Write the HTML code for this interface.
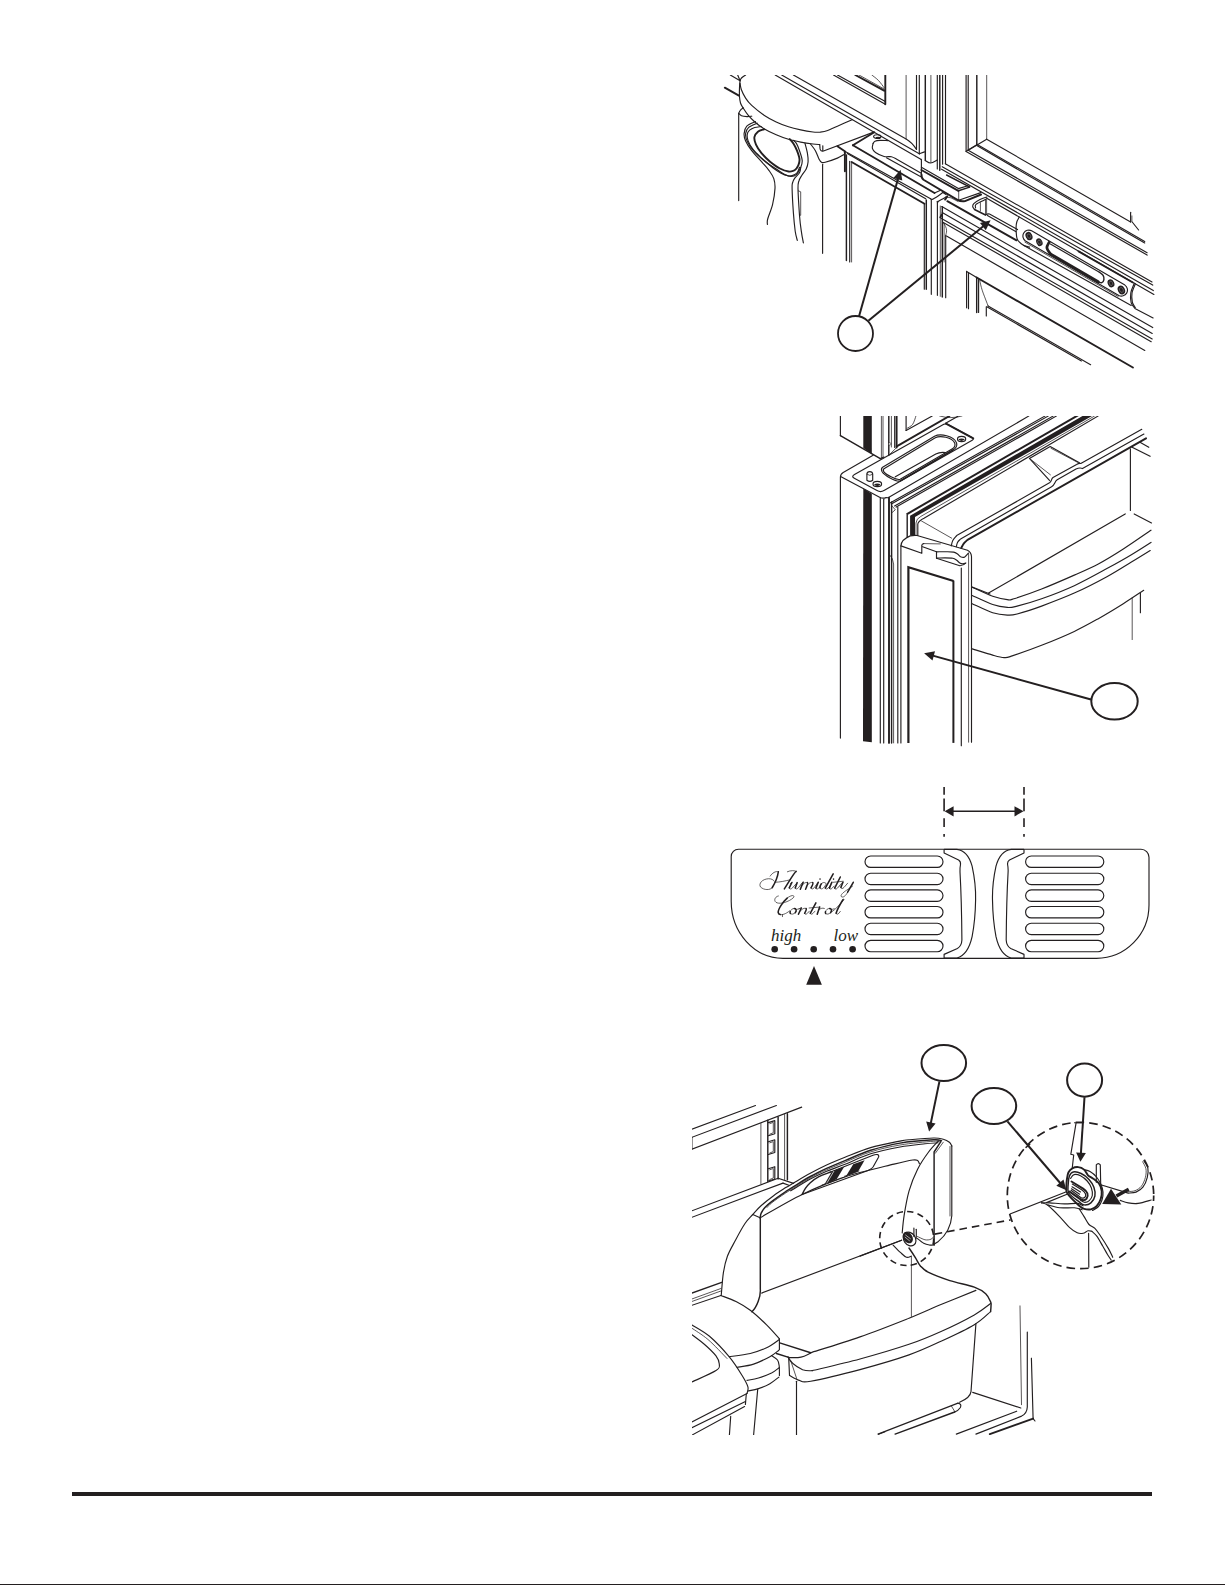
<!DOCTYPE html>
<html><head><meta charset="utf-8">
<style>
html,body{margin:0;padding:0;background:#fff;}
body{width:1225px;height:1585px;position:relative;overflow:hidden;font-family:"Liberation Sans",sans-serif;}
svg{position:absolute;left:0;top:0;}
.l{fill:none;stroke:#231f20;stroke-width:1.15;stroke-linecap:round;stroke-linejoin:round;}
.m{fill:none;stroke:#231f20;stroke-width:1.45;stroke-linecap:round;stroke-linejoin:round;}
.h{fill:none;stroke:#231f20;stroke-width:1.9;stroke-linecap:round;stroke-linejoin:round;}
.t{fill:none;stroke:#231f20;stroke-width:0.75;stroke-linecap:round;stroke-linejoin:round;}
.p{fill:none;stroke:#231f20;stroke-width:1.15;stroke-linejoin:round;}
.k{fill:#231f20;stroke:none;}
.w{fill:#fff;stroke:#231f20;stroke-width:1.3;}
</style></head><body>
<svg width="1225" height="1585" viewBox="0 0 1225 1585">
<!-- FOOTER -->
<rect x="72" y="1492" width="1080" height="4" class="k"/>
<rect x="0" y="1584" width="1225" height="1" class="k"/>
<!-- FIG1 -->
<g id="fig1">
<defs><clipPath id="c1"><rect x="715" y="75" width="450" height="310"/></clipPath></defs>
<g clip-path="url(#c1)">
<path class="l" d="M730.3,75.0 L740.1,80.7"/>
<path class="l" d="M737.7,75.0 L740.1,80.7"/>
<path class="h" d="M724.8,87.7 L738.9,95.6"/>
<path class="l" d="M745.6,75.0 C744.9,75.5 742.4,77.0 741.5,78.0 C740.6,79.0 740.4,79.0 740.1,80.7 C739.8,82.4 739.6,85.3 739.5,88.0 C739.4,90.7 739.3,94.3 739.5,96.8 C739.7,99.3 740.0,101.3 740.5,103.0 C741.0,104.7 742.2,106.5 742.6,107.2"/>
<path class="l" d="M740.1,83.4 C740.3,84.4 740.4,87.0 741.3,89.5 C742.2,92.0 743.9,95.4 745.6,98.1 C747.3,100.8 748.6,102.6 751.7,105.4 C754.8,108.2 759.9,112.5 764.0,115.2 C768.1,118.0 772.1,120.0 776.2,121.9 C780.3,123.8 784.4,125.5 788.5,126.8 C792.6,128.1 796.6,129.0 800.7,129.9 C804.8,130.8 809.7,131.6 813.0,132.0 C816.3,132.4 817.8,132.3 820.3,132.1 C822.8,131.8 824.9,131.5 827.7,130.5 C830.6,129.5 833.3,128.0 837.4,126.2 C841.5,124.4 849.6,120.8 852.1,119.7"/>
<path class="l" d="M742.6,107.2 C743.5,108.5 746.0,112.7 748.1,115.2 C750.2,117.8 752.8,120.2 755.4,122.5 C758.0,124.8 760.5,126.6 764.0,128.7 C767.5,130.8 772.1,133.0 776.2,134.8 C780.3,136.6 784.4,138.1 788.5,139.3 C792.6,140.5 796.6,141.3 800.7,142.1 C804.8,142.9 809.8,143.6 813.0,144.0 C816.2,144.4 818.6,144.5 819.7,144.6"/>
<path class="l" d="M819.7,144.6 L820.1,148.9 Q820.6,151.6 823.5,151 L873.7,132.1"/>
<path class="l" d="M822.8,145.8 L822.8,150.7"/>
<path class="l" d="M810.5,144.0 C811.3,145.1 814.0,148.1 815.4,150.7 C816.8,153.2 818.1,157.4 819.1,159.3 C820.1,161.2 820.5,161.8 821.5,162.3 C822.5,162.8 822.6,163.0 825.2,162.3 C827.9,161.6 834.2,159.4 837.4,158.1 C840.6,156.8 843.1,155.0 844.2,154.4"/>
<path class="l" d="M738.7,113.4 L738.7,200.6"/>
<path class="l" d="M738.7,113.4 C739.0,112.9 739.5,111.2 740.3,110.3 C741.0,109.4 742.7,108.3 743.2,107.9"/>
<path class="l" d="M738.7,113.4 C739.2,113.8 740.1,115.3 741.5,115.8 C742.9,116.3 745.3,116.5 747.0,116.6 C748.7,116.7 750.9,116.3 751.7,116.2"/>
<path class="l" d="M755.4,121.6 C754.0,122.4 748.7,124.2 746.8,126.2 C744.9,128.2 744.3,131.2 744.1,133.6 C743.9,136.0 744.3,138.1 745.6,140.9 C746.9,143.8 749.1,147.2 751.7,150.7 C754.4,154.2 758.6,158.4 761.5,161.7 C764.4,165.0 766.9,167.5 768.9,170.3 C770.9,173.1 772.8,175.6 773.8,178.6 C774.8,181.6 775.2,184.1 775.0,188.4 C774.8,192.7 773.8,199.2 772.6,204.3 C771.4,209.4 768.6,215.6 767.7,219.0 C766.8,222.4 767.5,223.6 767.4,224.5"/>
<path class="l" d="M757.2,123.2 C755.8,123.9 750.6,125.7 748.7,127.4 C746.8,129.1 745.9,131.3 745.6,133.6 C745.3,135.8 745.9,138.2 747.1,140.9 C748.3,143.7 750.2,146.8 753.0,150.1 C755.8,153.4 760.1,157.3 764.0,160.5 C767.9,163.7 772.7,166.8 776.2,169.1 C779.7,171.4 782.3,173.4 784.8,174.6 C787.2,175.8 789.0,176.4 790.9,176.4 C792.8,176.4 794.8,176.1 796.4,174.6 C798.0,173.1 799.7,169.9 800.7,167.6 C801.7,165.2 802.4,163.3 802.2,160.5 C802.0,157.7 800.5,153.5 799.5,150.7 C798.5,147.8 797.4,145.1 796.4,143.4 C795.4,141.7 793.9,140.8 793.4,140.3"/>
<path class="l" d="M761.3,126.5 C760.2,126.7 756.7,126.9 754.7,127.5 C752.8,128.1 750.8,129.1 749.6,130.2 C748.4,131.3 747.5,132.4 747.3,134.2 C747.0,136.0 747.1,138.3 748.1,140.9 C749.1,143.5 750.9,146.8 753.2,149.7 C755.5,152.6 758.7,155.4 762.0,158.5 C765.3,161.6 769.9,165.6 773.1,168.0 C776.3,170.4 778.7,171.9 781.1,173.2 C783.5,174.5 785.8,175.4 787.8,175.8 C789.8,176.2 791.3,176.0 792.9,175.4 C794.5,174.8 796.2,173.8 797.3,172.5 C798.4,171.2 799.1,168.2 799.5,167.3"/>
<path class="h" d="M764.0,129.3 C763.0,129.7 759.5,130.4 757.9,131.7 C756.3,133.0 754.7,135.0 754.4,137.2 C754.1,139.3 754.8,141.9 756.0,144.6 C757.2,147.3 759.1,150.3 761.5,153.2 C763.9,156.0 767.0,159.1 770.1,161.7 C773.2,164.2 776.8,166.9 779.9,168.5 C783.0,170.1 786.0,171.2 788.5,171.5 C791.0,171.8 793.0,171.3 794.6,170.3 C796.2,169.3 797.5,167.2 798.3,165.4 C799.1,163.6 799.7,161.8 799.5,159.3 C799.3,156.9 798.0,153.3 797.0,150.7 C796.0,148.0 794.6,145.3 793.4,143.4 C792.2,141.5 790.3,139.8 789.7,139.1"/>
<path class="l" d="M800.7,167.6 C800.5,168.5 800.5,171.0 799.5,172.8 C798.5,174.6 795.8,176.6 794.6,178.3 C793.4,180.0 792.9,181.3 792.5,183.0 C792.1,184.7 792.0,183.4 792.1,188.4 C792.2,193.4 792.9,205.8 793.4,212.9 C793.9,220.0 794.6,226.6 795.2,231.2 C795.9,235.8 796.9,238.9 797.3,240.4"/>
<path class="l" d="M805.0,143.4 C805.4,145.0 806.9,150.1 807.4,153.2 C807.9,156.2 808.3,159.0 808.1,161.7 C807.9,164.3 807.2,166.8 806.2,169.1 C805.2,171.3 803.1,173.2 801.9,175.2 C800.7,177.2 799.5,178.8 798.9,181.0 C798.2,183.2 797.9,182.7 798.0,188.4 C798.1,194.1 799.0,208.2 799.5,215.3 C800.0,222.4 800.6,226.6 801.3,231.2 C801.9,235.8 803.0,240.9 803.4,242.9"/>
<path class="t" d="M798.3,190.8 L800.7,191.8 L800.7,215.3 L799.5,215.3"/>
<path class="l" d="M822.6,164.2 L822.6,253.3"/>
<path class="l" d="M793.4,75 L906.1,139.1 Q912,142.5 916.5,149.5"/>
<path class="l" d="M781.7,75.0 L919.3,153.8"/>
<path class="l" d="M775.2,75.0 L920.8,159.3"/>
<path class="l" d="M837.5,75.0 L885.3,101.5"/>
<path class="l" d="M833.5,75.0 L885.3,104.2"/>
<path class="h" d="M855.3,75.0 L884.1,90.7"/>
<path class="t" d="M859.0,75.0 L884.5,89.2"/>
<path class="t" d="M871.8,75.0 C872.9,75.9 876.5,78.4 878.5,80.5 C880.5,82.6 883.2,86.5 884.1,87.7"/>
<path class="h" d="M885.3,75.0 L885.3,104.2"/>
<path class="t" d="M906.1,75.0 L906.1,139.1"/>
<path class="l" d="M916.5,75.0 L916.5,149.5"/>
<path class="l" d="M919.3,75.0 L919.3,153.8"/>
<path class="m" d="M925.3,75.0 L925.3,160.5"/>
<path class="t" d="M930.9,75.0 L930.9,162.5"/>
<path class="l" d="M937.3,75.0 L937.3,169.0"/>
<path class="m" d="M939.8,75.0 L939.8,170.3"/>
<path class="l" d="M942.6,75.0 L942.6,164.2"/>
<path class="l" d="M945.5,75.0 L945.5,163.7"/>
<path class="l" d="M966.1,75.0 L966.1,151.4"/>
<path class="l" d="M968.2,75.0 L968.2,150.2"/>
<path class="m" d="M976.8,75.0 L976.8,144.7"/>
<path class="t" d="M986.7,75.0 L986.7,139.2"/>
<path class="l" d="M925.3,160.5 C926.2,160.9 928.6,163.1 930.6,163.0 C932.6,162.9 936.2,160.4 937.3,159.9"/>
<path class="l" d="M919.3,153.8 L924.5,151.9"/>
<path class="l" d="M986.7,139.2 L1130.6,222.0"/>
<path class="l" d="M976.8,144.2 L1144.7,241.6"/>
<path class="l" d="M976.8,145.6 L1144.7,243.0"/>
<path class="l" d="M968.2,150.2 L1147.1,252.7"/>
<path class="l" d="M966.1,151.4 L1147.1,255.1"/>
<path class="l" d="M986.7,139.2 L968.2,150.2"/>
<path class="l" d="M976.8,144.7 L966.5,150.9"/>
<path class="l" d="M1130.6,212.2 L1130.6,222.0"/>
<path class="t" d="M1131.9,215.9 L1131.9,221.6"/>
<path class="l" d="M1132.2,222.0 L1138.6,230.0"/>
<path class="l" d="M945.3,163.7 L1152.0,282.0"/>
<path class="l" d="M942.2,166.7 L1152.7,285.1"/>
<path class="l" d="M941.6,169.2 L1153.3,290.6"/>
<path class="l" d="M986.3,198.0 L1153.9,294.5"/>
<path class="h" d="M874.3,132.3 L852.9,145.3"/>
<path class="h" d="M852.9,145.3 L934.5,193.0"/>
<path class="l" d="M934.5,193.0 L940.0,190.4"/>
<path class="h" d="M837.4,146.2 L844.8,151.2"/>
<path class="l" d="M844.8,151.2 L930.6,198.8"/>
<path class="l" d="M847.3,153.5 L925.7,198.8"/>
<path class="h" d="M851.6,162.0 L924.5,203.7"/>
<path class="h" d="M844.9,152.2 L844.9,171.2"/>
<path class="m" d="M846.4,155.0 L846.4,260.4"/>
<path class="l" d="M849.7,161.4 L849.7,262.0"/>
<path class="t" d="M851.6,163.0 L851.6,262.0"/>
<path class="l" d="M924.3,203.7 L924.3,289.2"/>
<path class="m" d="M926.3,200.0 L926.3,289.2"/>
<path class="l" d="M931.3,200.0 L931.3,294.3"/>
<path class="l" d="M937.4,201.2 L937.4,295.3"/>
<path class="t" d="M940.3,206.0 L940.3,296.3"/>
<path class="m" d="M942.3,206.7 L942.3,297.0"/>
<path class="t" d="M944.1,223.3 L944.1,262.0"/>
<path class="l" d="M945.7,235.5 L945.7,297.7"/>
<path class="l" d="M930.6,198.8 C930.8,198.9 931.4,199.4 932.0,199.4 C932.6,199.4 932.2,199.7 934.0,198.6 C935.8,197.5 941.4,193.6 942.9,192.6"/>
<path class="l" d="M942.9,192.6 L946.0,194.6"/>
<path class="l" d="M937.4,202.9 C937.6,202.6 937.7,201.8 938.5,201.2 C939.3,200.6 940.8,199.9 942.0,199.2 C943.2,198.5 945.2,197.4 945.9,197.0"/>
<path class="h" d="M945.1,199.6 L947.3,196.3"/>
<path class="t" d="M945.9,197.0 L951.0,197.8 L958.0,201.5"/>
<path class="l" d="M873.1,143.4 C873.0,144.2 872.0,146.8 872.4,148.3 C872.8,149.8 873.5,151.1 875.5,152.5 C877.5,153.9 881.5,155.8 884.1,156.5 C886.8,157.2 889.4,156.3 891.4,156.7 C893.4,157.1 895.5,158.6 896.3,159.0 L920.8,173.1"/>
<path class="l" d="M886.5,157.8 L920.8,176.7"/>
<path class="l" d="M873.1,143.4 C873.4,143.0 873.9,141.7 875.0,141.2 C876.1,140.7 877.8,140.5 880.0,140.4 C882.2,140.3 886.7,140.6 888.0,140.6"/>
<ellipse class="l" cx="877.3" cy="136.6" rx="3.7" ry="1.9"/>
<ellipse class="k" cx="878" cy="137.9" rx="2.6" ry="1.2"/>
<path class="l" d="M921.4,159.3 L921.4,176.2"/>
<path class="l" d="M921.4,167.2 L958.4,188.6"/>
<path class="h" d="M921.4,170.0 L958.4,190.8"/>
<path class="h" d="M921.5,174.5 Q921.4,178.3 923.5,179.8 L957,199.6 Q961,201.9 965,201.1 L981.1,194.5"/>
<path class="t" d="M958.7,190.8 L958.7,200.3"/>
<path class="l" d="M958.4,188.6 L967.9,185.7"/>
<path class="m" d="M958.4,190.8 L969.7,187.1"/>
<path class="m" d="M946.6,175.0 L969.4,186.8"/>
<path class="l" d="M958.7,200.3 L980.8,192.6"/>
<path class="h" d="M947.3,201.2 L1016.5,240.3"/>
<path class="l" d="M941.8,206.6 L1152.7,327.6"/>
<path class="l" d="M942.2,212.5 L1152.2,333.5"/>
<path class="l" d="M941.5,218.4 L1152.2,339.0"/>
<path class="l" d="M943.3,222.4 L1151.2,341.7"/>
<path class="t" d="M943.3,222.8 C943.7,223.4 945.0,225.2 945.6,226.5 C946.2,227.8 946.6,229.2 946.6,230.8 C946.6,232.4 945.7,235.1 945.5,236.0"/>
<path class="h" d="M940.3,217.4 L941.8,214.5"/>
<path class="l" d="M946.5,236.0 L1144.8,350.4"/>
<path class="l" d="M987.0,197.0 C985.8,197.4 982.2,198.4 980.0,199.5 C977.8,200.6 975.0,202.5 973.8,203.7 C972.6,204.9 972.6,205.6 972.7,206.6 C972.8,207.6 974.2,209.0 974.5,209.5"/>
<path class="m" d="M974.5,209.5 L985.5,215.0"/>
<path class="l" d="M985.5,215 Q987.5,213.6 989.5,214 L1017.5,229.6"/>
<path class="l" d="M985.5,199.6 C983.9,200.4 977.6,203.0 976.0,204.4 C974.4,205.8 975.7,207.4 975.6,208.0"/>
<path class="t" d="M980.4,202.6 L980.4,211.0"/>
<path class="t" d="M985.5,199.2 L985.5,213.9"/>
<path class="t" d="M986.6,198.8 L986.6,213.5"/>
<path class="l" d="M987.4,215.4 L1015.7,231.6"/>
<path class="l" d="M1019.2,217.1 C1018.8,217.9 1017.3,220.2 1016.8,222.0 C1016.3,223.8 1016.0,225.3 1016.1,228.2 C1016.2,231.1 1016.1,236.3 1017.3,239.2 C1018.5,242.0 1021.5,244.0 1023.5,245.3 C1025.5,246.6 1028.6,246.8 1029.6,247.1"/>
<path class="l" d="M1023.5,245.3 L1131.2,305.5"/>
<path class="l" d="M1134.3,283.3 C1133.7,284.9 1131.3,289.7 1130.8,293.0 C1130.3,296.3 1130.5,300.3 1131.2,302.9 C1131.9,305.5 1134.3,307.5 1134.9,308.4 L1153.1,317.9"/>
<path class="l" d="M1135.4,283.8 C1134.8,285.3 1132.5,289.9 1132.0,293.0 C1131.5,296.1 1131.9,300.1 1132.4,302.5 C1133.0,304.9 1134.8,306.7 1135.3,307.5"/>
<path class="h" d="M1078.6,251.4 L1132.4,282.2"/>
<path class="l" d="M1031.6,230.7 L1124.9,285.1 A6.0,6.0 0 0 1 1118.8,295.4 L1025.5,241.0 A6.0,6.0 0 0 1 1031.6,230.7 Z"/>
<path class="t" d="M1024.9,242.1 L1118.2,296.5"/>
<ellipse cx="1029.0" cy="236.1" rx="3.3" ry="4.3" fill="#231f20" stroke="none" transform="rotate(-25 1029.0 236.1)"/>
<ellipse cx="1029.0" cy="236.1" rx="1.7" ry="2.3" fill="none" stroke="#8a8788" stroke-width="0.5" transform="rotate(-25 1029.0 236.1)"/>
<ellipse cx="1039.4" cy="242.2" rx="3.0" ry="4.0" fill="#231f20" stroke="none" transform="rotate(-25 1039.4 242.2)"/>
<ellipse cx="1039.4" cy="242.2" rx="1.6" ry="2.1" fill="none" stroke="#8a8788" stroke-width="0.5" transform="rotate(-25 1039.4 242.2)"/>
<ellipse cx="1111.0" cy="283.3" rx="3.2" ry="4.2" fill="#231f20" stroke="none" transform="rotate(-25 1111.0 283.3)"/>
<ellipse cx="1111.0" cy="283.3" rx="1.6" ry="2.3" fill="none" stroke="#8a8788" stroke-width="0.5" transform="rotate(-25 1111.0 283.3)"/>
<ellipse cx="1121.4" cy="290.0" rx="3.5" ry="4.6" fill="#231f20" stroke="none" transform="rotate(-25 1121.4 290.0)"/>
<ellipse cx="1121.4" cy="290.0" rx="1.8" ry="2.5" fill="none" stroke="#8a8788" stroke-width="0.5" transform="rotate(-25 1121.4 290.0)"/>
<path class="l" d="M1050.4,244.1 L1099.4,272.2"/>
<path fill="none" stroke="#231f20" stroke-width="2.8" stroke-linecap="round" stroke-linejoin="round" d="M1049.2,242.2 C1048.8,243.1 1046.7,245.9 1046.9,247.8 C1047.1,249.8 1049.8,252.9 1050.4,253.9"/>
<path fill="none" stroke="#231f20" stroke-width="2.8" stroke-linecap="round" d="M1050.4,253.9 L1098.2,281.8"/>
<path class="m" d="M1098.2,281.8 C1098.8,281.9 1100.8,283.1 1101.8,282.7 C1102.8,282.3 1103.7,280.8 1103.9,279.6 C1104.1,278.4 1103.8,276.5 1103.1,275.3 C1102.3,274.1 1100.0,272.7 1099.4,272.2"/>
<path class="l" d="M966.6,271.4 L966.6,307.8"/>
<path class="l" d="M968.5,272.8 L968.5,308.7"/>
<path class="m" d="M976.7,277.5 L976.7,312.4"/>
<path class="l" d="M978.6,279.0 L978.6,312.4"/>
<path class="l" d="M966.6,271.4 L976.7,277.5"/>
<path class="h" d="M976.7,277.5 L1132.9,367.5"/>
<path class="t" d="M979.5,279.3 C979.8,280.4 980.4,283.7 981.0,286.0 C981.6,288.3 982.0,289.8 983.2,293.1 C984.4,296.4 987.3,303.8 988.1,305.9"/>
<path class="l" d="M986.3,306.8 L986.3,316.0"/>
<path class="l" d="M986.8,306.8 L1081.4,361.0"/>
<path class="l" d="M988.1,305.9 L1090.6,364.7"/>
</g>
<path d="M859.1,316.0 L898.1,178.4" fill="none" stroke="#231f20" stroke-width="2.00"/>
<path class="k" d="M900.6,169.7 L902.3,180.6 L893.4,178.1 Z"/>
<path d="M868.4,320.8 L983.6,226.0" fill="none" stroke="#231f20" stroke-width="2.00"/>
<path class="k" d="M990.6,220.3 L985.8,230.2 L980.0,223.1 Z"/>
<circle cx="855.5" cy="333.5" r="17.5" fill="#fff" stroke="#231f20" stroke-width="1.8"/>
</g><!--/fig1-->
<!-- FIG2 -->
<g id="fig2">
<defs><clipPath id="c2"><rect x="830" y="416" width="340" height="335"/></clipPath></defs>
<g clip-path="url(#c2)">
<path class="l" d="M840.4,410.0 L840.4,435.7"/>
<path class="m" d="M840.4,435.7 L880.3,458.6"/>
<path class="k" d="M863.3,410 H871.8 V454 L863.3,448.1 Z"/>
<path class="t" d="M881.4,410.0 L881.4,458.6"/>
<path class="t" d="M883.0,410.0 L883.0,458.2"/>
<path class="m" d="M888.8,410.0 L888.8,455.3"/>
<path class="t" d="M891.4,410.0 L891.4,447.0"/>
<path class="l" d="M894.7,410.0 L894.7,447.5"/>
<path class="h" d="M896.6,410.0 L896.6,447.5"/>
<path class="l" d="M880.3,458.6 L884.0,457.0"/>
<path class="l" d="M945.6,423.2 L958.0,416.2"/>
<path class="t" d="M939.6,416 Q951,419.3 962,416"/>
<circle cx="889.8" cy="443.9" r="1.2" fill="#fff" stroke="#231f20" stroke-width="0.6"/>
<path class="t" d="M888.8,455.3 L896.6,447.5"/>
<path class="h" d="M896.7,446.4 L949.5,416.0"/>
<path class="l" d="M906.1,410.0 L906.1,430.4"/>
<path class="l" d="M906.1,430.4 L932.2,416.0"/>
<path class="t" d="M915.9,416.0 C915.4,417.4 914.2,422.2 912.7,424.3 C911.2,426.4 907.9,427.7 906.9,428.4"/>
<path class="l" d="M873.1,455.3 L843.2,472.4 Q840.4,474 840.4,477.2 V738.1"/>
<path class="l" d="M840.6,476.4 L879.6,497.2 Q882.8,498.9 886,497.6 L888.1,497.7 L1028.7,416.1"/>
<path class="l" d="M854.5,474.6 L943.8,424.3 Q945.6,423.3 947.4,424.3 L972,437.4 Q974.6,438.8 972.2,440.2 L884,490.6 Q880.5,492.6 877,490.6 L854.3,478.3 Q851,476.5 854.5,474.6 Z"/>
<path class="l" d="M882.6,467.2 L934.5,436.3 C940,433.3 954,435.6 956.6,443 C957.6,446.8 955.2,448.8 952.8,450.1 L900.5,480.8 C896.5,482.8 884,475.2 882,471.5 C881,469.5 881.5,468 882.6,467.2 Z"/>
<path class="l" d="M884,468.7 L935.3,437.8 C940,435.2 952.3,437.2 954.8,443.3 C955.7,446.3 954,447.8 952,448.9 L900.2,479.3 C897,480.8 885.8,474.5 883.8,471.6 C883,470.2 883.2,469.2 884,468.7 Z"/>
<path class="h" d="M946.0,423.6 L973.3,438.3"/>
<path class="l" d="M895.3,476.8 L935.8,454 Q940,451.8 945.5,452.6"/>
<path class="m" d="M900.5,480.8 L952.8,450.1"/>
<ellipse class="l" cx="961.6" cy="439" rx="4.1" ry="2.6"/>
<path class="k" d="M958.3,439.3 Q961.6,437.6 964.9,439.3 Q961.6,442.6 958.3,439.3 Z"/>
<ellipse class="l" cx="877.3" cy="484" rx="4.3" ry="2.6"/>
<path class="k" d="M874,484.4 Q877.3,482.7 880.6,484.4 Q877.3,487.7 874,484.4 Z"/>
<path class="l" d="M866.9,474 V480.2 Q869.8,482.6 872.7,480.2 V474 Q872.5,471.6 869.8,471.6 Q867,471.6 866.9,474 Z" fill="#fff"/>
<path class="t" d="M866.9,474.3 Q869.8,476.6 872.7,474.3"/>
<path class="k" d="M863.3,488.6 L871.8,493.8 V742.2 L863,741.3 Z"/>
<path class="l" d="M880.3,498.4 L880.3,742.9"/>
<path class="l" d="M883.7,499.2 L883.7,742.9"/>
<path class="h" d="M889.0,497.7 L889.0,742.9"/>
<path class="m" d="M891.6,502.0 L891.6,742.9"/>
<path class="t" d="M890,555.2 Q893,558 893.6,564 V742.9"/>
<path class="l" d="M897.8,507.0 L897.8,742.9"/>
<path class="t" d="M891.6,505.5 L895.3,509.8 L891.6,513.0"/>
<path class="l" d="M890.5,502.7 L1044.9,416.1"/>
<path class="l" d="M891.3,503.9 L1048.2,416.1"/>
<path class="l" d="M894.6,505.9 L1053.1,416.1"/>
<path class="l" d="M896.2,507.1 L1056.3,416.1"/>
<path d="M907.2,537 V514.5" fill="none" stroke="#231f20" stroke-width="1.4"/>
<path d="M906.6,514.3 L1087.2,410" fill="none" stroke="#231f20" stroke-width="2"/>
<path class="k" d="M910.1,535.5 V515.7 L1082.5,416.1 L1093.1,410 H1102.7 L1092,416.1 L915,517 V535.5 Z"/>
<path class="t" d="M916,535.5 V523 Q916.2,518.8 920.7,516.5 L1094.4,416.1"/>
<path class="l" d="M917.8,535.5 V524 Q918.3,521 924,518.2 L1098,416.1"/>
<path class="t" d="M921.5,521.0 L951.7,538.2"/>
<path class="l" d="M951.3,545.9 C951.5,545.0 951.9,542.2 952.8,540.5 C953.7,538.8 956.1,536.4 956.7,535.6 L1049.5,482.8 C1052,481.3 1051,479 1053,477.5 L1076.6,464.5 Q1079,463 1080.8,463.5 L1141.8,429.3"/>
<path class="l" d="M956.3,546.7 C956.5,546.0 956.8,543.7 957.5,542.4 C958.2,541.1 960.1,539.6 960.6,539.0 L1051.6,486.7 C1055,484.7 1054.5,481.5 1057.2,479.8 L1076,469 Q1080,467.2 1082.5,468.6 L1143.9,434.1"/>
<path class="h" d="M961.3,547.9 C961.7,547.2 962.7,544.9 963.7,543.6 C964.7,542.3 966.9,540.5 967.5,539.9 L1146,438.3"/>
<path class="l" d="M1049.5,480.4 L1029.4,458.4 L1050.2,446.6 L1079.4,462.8"/>
<path class="t" d="M1031.2,459.8 L1050.4,474.8"/>
<path class="t" d="M1051.0,448.3 L1077.5,462.3"/>
<path class="l" d="M1130.4,448.7 L1130.4,510.5"/>
<path class="l" d="M1132.1,447.3 L1150.1,456.3"/>
<path class="l" d="M1140.4,442.5 L1148.8,447.3"/>
<path class="l" d="M1134.2,513.9 L1151.5,523.0"/>
<path class="l" d="M1125.2,513.9 L988.6,593.1"/>
<path class="l" d="M972.2,587.3 C975.6,588.8 986.9,594.2 992.7,596.3 C998.6,598.3 1003.8,599.2 1007.3,599.6 C1010.8,600.0 1008.2,600.6 1013.9,598.8 C1019.6,597.0 1031.5,593.0 1041.6,589.0 C1051.7,585.0 1064.8,579.3 1074.3,575.1 C1083.8,570.9 1090.6,568.1 1098.8,563.7 C1107.0,559.4 1114.6,554.6 1123.3,549.0 C1132.0,543.4 1146.4,533.3 1151.0,530.2"/>
<path class="l" d="M972.2,595.5 C975.6,597.0 986.9,602.5 992.7,604.5 C998.6,606.5 1003.2,607.1 1007.3,607.4 C1011.4,607.7 1011.4,607.5 1017.1,606.1 C1022.8,604.7 1032.1,602.2 1041.6,598.8 C1051.1,595.4 1063.4,590.7 1074.3,585.7 C1085.2,580.7 1097.4,573.8 1106.9,568.6 C1116.4,563.4 1124.1,559.1 1131.4,554.7 C1138.8,550.3 1147.7,544.5 1151.0,542.4"/>
<path class="l" d="M972.2,603.7 C975.6,605.2 986.9,610.8 992.7,612.7 C998.6,614.6 1003.2,614.9 1007.3,615.1 C1011.4,615.3 1011.4,615.5 1017.1,614.0 C1022.8,612.5 1032.1,609.6 1041.6,606.1 C1051.1,602.6 1063.4,598.0 1074.3,593.1 C1085.2,588.2 1097.4,581.9 1106.9,576.7 C1116.4,571.5 1124.2,566.4 1131.4,562.0 C1138.6,557.6 1147.1,552.5 1150.2,550.6"/>
<path class="l" d="M972.2,648.9 C975.6,649.9 987.4,653.6 992.7,655.1 C998.0,656.6 1000.9,657.5 1004.1,657.6 C1007.4,657.7 1006.0,658.0 1012.2,655.9 C1018.5,653.8 1031.2,649.4 1041.6,645.3 C1051.9,641.2 1064.8,635.9 1074.3,631.4 C1083.8,626.9 1090.6,623.0 1098.8,618.4 C1107.0,613.8 1115.8,608.4 1123.3,603.7 C1130.8,599.0 1140.3,592.5 1143.7,590.3"/>
<path class="t" d="M1132.2,598.0 L1132.2,639.6"/>
<path class="l" d="M1140.4,593.1 L1140.4,612.7"/>
<path class="l" d="M900.9,742.9 V545.9 C901.2,542 905,538 910.2,535.9 Q913.5,535.2 917.1,535.5 L967.5,550.2 Q971.2,552 971.5,556.5 V742.2" fill="#fff"/>
<path class="t" d="M968.6,553.0 L968.6,742.2"/>
<path class="l" d="M900.9,545.9 L921.8,553.3 V545.4 Q922,543.7 923.8,543.6"/>
<path class="t" d="M923.5,543.6 L940.4,543.9"/>
<path class="l" d="M922.6,546.7 L936.5,551.8"/>
<path class="l" d="M936.5,551.8 L936.5,558.0"/>
<path class="l" d="M936.5,551.8 C937.9,551.8 942.1,551.7 945.0,551.7 C947.9,551.8 951.5,551.7 953.6,552.1 C955.7,552.5 956.3,553.3 957.5,554.1 C958.7,554.9 959.5,556.3 960.6,556.8 C961.8,557.3 963.1,557.8 964.4,557.2 C965.7,556.6 967.6,553.9 968.3,553.3"/>
<path class="l" d="M936.5,558.0 C937.9,558.0 942.3,557.9 945.0,557.9 C947.7,557.9 950.8,557.9 952.8,558.3 C954.8,558.7 955.5,559.5 956.7,560.3 C957.9,561.1 958.8,562.4 959.8,563.0 C960.8,563.6 961.9,563.8 962.9,563.8 C963.9,563.8 965.1,563.3 965.6,563.2"/>
<path class="l" d="M936.5,558.3 L959.8,565.7 Q963.5,565.8 965.8,563"/>
<path class="l" d="M961.3,568.0 L961.3,745.7"/>
<path d="M908.4,742.9 V567.2 L953.6,581" fill="none" stroke="#231f20" stroke-width="2.2" stroke-linejoin="miter"/>
<path d="M953.4,580.6 V742.9" fill="none" stroke="#231f20" stroke-width="2.0"/>
<path class="l" d="M972.2,587.0 L990.0,594.0"/>
</g>
<path d="M1091.0,699.5 L932.8,655.6" fill="none" stroke="#231f20" stroke-width="2.00"/>
<path class="k" d="M924.1,653.2 L935.0,651.2 L932.5,660.5 Z"/>
<ellipse cx="1114.5" cy="701.3" rx="23.2" ry="18.2" fill="#fff" stroke="#231f20" stroke-width="2.0"/>
</g><!--/fig2-->
<!-- FIG3 -->
<g id="fig3">
<path class="p" d="M738.5,849.2 H1141 A8,8 0 0 1 1149,857.2 V905 A52.5,53.3 0 0 1 1096.5,958.3 H783 A51.8,57 0 0 1 731.2,901.3 V856.5 A7.3,7.3 0 0 1 738.5,849.2 Z"/>
<rect class="p" x="865" y="856.0" width="78" height="11.4" rx="5.7"/>
<rect class="p" x="1025.6" y="856.0" width="78.2" height="11.4" rx="5.7"/>
<rect class="p" x="865" y="873.2" width="78" height="11.4" rx="5.7"/>
<rect class="p" x="1025.6" y="873.2" width="78.2" height="11.4" rx="5.7"/>
<rect class="p" x="865" y="889.9" width="78" height="11.4" rx="5.7"/>
<rect class="p" x="1025.6" y="889.9" width="78.2" height="11.4" rx="5.7"/>
<rect class="p" x="865" y="906.5" width="78" height="11.4" rx="5.7"/>
<rect class="p" x="1025.6" y="906.5" width="78.2" height="11.4" rx="5.7"/>
<rect class="p" x="865" y="923.2" width="78" height="11.4" rx="5.7"/>
<rect class="p" x="1025.6" y="923.2" width="78.2" height="11.4" rx="5.7"/>
<rect class="p" x="865" y="940.3" width="78" height="11.4" rx="5.7"/>
<rect class="p" x="1025.6" y="940.3" width="78.2" height="11.4" rx="5.7"/>
<path class="p" d="M944.1,849.2 V852.9 L958.6,860 Q960.9,861.5 960.5,864.5 Q959.8,868 960,872 Q961.6,900 961.9,940 Q961.6,946 957.4,948.5 L944.1,954.4 V958.3"/>
<path class="p" d="M944.1,849.4 H957 Q968,851 972.1,866.2 Q976,884 975.6,900 Q975.3,920 972.1,936.7 Q968,955 957,958 H944.1"/>
<path class="p" d="M1024,849.2 V852.9 L1009.5,860 Q1007.2,861.5 1007.6,864.5 Q1008.3,868 1008.1,872 Q1006.5,900 1006.2,940 Q1006.5,946 1010.7,948.5 L1024,954.4 V958.3"/>
<path class="p" d="M1024,849.4 H1011.1 Q1000.1,851 996,866.2 Q992.1,884 992.5,900 Q992.8,920 996,936.7 Q1000.1,955 1011.1,958 H1024"/>
<path d="M944.1,786.9 V794.7 M944.1,798.6 V811.3 M944.1,818.2 V827 M944.1,833.9 V836.8" fill="none" stroke="#231f20" stroke-width="1.6"/>
<path d="M1024.0,786.9 V794.7 M1024.0,798.6 V811.3 M1024.0,818.2 V827 M1024.0,833.9 V836.8" fill="none" stroke="#231f20" stroke-width="1.6"/>
<path d="M950,811.3 H1018" fill="none" stroke="#231f20" stroke-width="1.5"/>
<path class="k" d="M944.6,811.3 L953.6,806.2 V816.4 Z M1023.5,811.3 L1014.5,806.2 V816.4 Z"/>
<circle class="k" cx="774.7" cy="949.3" r="3.3"/>
<circle class="k" cx="794.1" cy="949.3" r="3.3"/>
<circle class="k" cx="813.7" cy="949.3" r="3.3"/>
<circle class="k" cx="833.0" cy="949.3" r="3.3"/>
<circle class="k" cx="852.6" cy="949.3" r="3.3"/>
<path class="k" d="M814,966.1 L806.2,984.7 H821.9 Z"/>
<g fill="none" stroke="#231f20" stroke-linecap="round" stroke-linejoin="round">
<path stroke-width="0.7" d="M770.18 876.08C772.06 873.08 775.82 870.64 778.35 871.76 M772.16 887.72C770.18 890.35 764.08 890.35 760.51 886.97C758.45 883.59 762.02 879.09 768.59 878.71C771.59 878.71 773.47 879.84 774.03 880.96 M787.36 871.76C790.37 870.26 795.25 870.26 796.19 871.39 M774.60 882.28C780.04 882.28 785.67 880.78 790.18 879.84 M790.18 883.78C790.84 883.03 791.31 882.65 791.87 882.47 M789.24 887.91C789.43 889.41 790.93 889.41 792.43 887.91L797.13 882.65 M795.25 887.91C795.44 889.41 796.94 889.41 798.44 887.72L800.69 884.91 M800.69 884.91C801.44 883.40 802.20 882.28 803.13 882.18 M801.44 886.03C803.51 883.22 805.95 881.71 807.45 882.65 M806.51 886.03C808.58 883.22 811.02 881.71 812.71 882.65 M811.02 887.91C811.21 889.41 812.71 889.41 814.02 887.91L815.90 885.47 M815.90 885.47C816.65 884.16 817.40 882.84 818.25 882.28 M815.90 888.10C816.09 889.41 817.40 889.41 818.72 888.10L820.60 886.22 M826.23 883.78C825.10 882.09 822.85 881.90 821.35 883.78 M820.03 887.91C820.22 889.41 822.29 889.41 824.16 887.16L826.23 884.16 M825.29 888.10C825.48 889.41 826.79 889.41 828.11 888.10L829.98 886.03 M829.98 886.03C830.73 884.53 831.30 883.03 831.86 882.28 M829.42 888.10C829.61 889.41 830.92 889.41 832.24 888.10L834.11 886.03 M834.68 888.10C834.87 889.41 836.18 889.41 837.49 888.10L839.37 886.03 M833.36 882.28L843.13 881.24 M839.37 886.03C840.69 884.16 841.81 882.65 842.94 882.28 M840.87 887.35C841.06 889.04 842.56 889.04 844.07 887.35L847.63 883.22 M847.63 892.23C845.76 895.98 842.94 898.05 841.25 896.55C840.31 895.04 842.94 892.60 846.69 890.16L852.51 886.22 M778.35 895.98C775.53 896.55 774.03 899.18 775.16 901.43C776.85 904.06 782.86 903.87 789.43 900.49C793.18 898.42 794.69 896.73 793.56 895.80C792.43 895.04 789.80 895.98 787.18 898.05 M780.23 914.57C781.92 915.13 785.67 914.20 789.62 910.82 M782.48 914.57L782.48 916.64 M794.31 908.56C792.43 908.19 790.74 909.69 790.18 911.76 M790.37 913.44C791.31 914.76 793.75 914.38 795.25 912.69 M796.00 909.50C796.94 909.50 797.88 909.13 799.00 908.75 M799.00 908.75C799.76 908.19 800.51 908.00 801.26 908.00 M799.76 911.57C801.82 908.94 804.45 907.44 806.14 908.56 M804.64 913.26C804.82 914.57 806.14 914.57 807.45 913.26L809.33 911.19 M810.27 913.26C810.46 914.57 811.77 914.57 813.09 913.26L814.96 911.19 M809.14 908.00L819.66 907.06 M818.53 910.07C819.94 908.56 822.29 907.62 824.35 908.38 M829.61 908.56C827.73 908.19 826.04 909.69 825.48 911.76 M825.67 913.44C826.60 914.76 829.04 914.38 830.55 912.69 M831.30 909.50C832.24 909.50 833.18 909.13 834.30 908.75 M831.86 911.76C835.43 909.50 840.12 904.24 843.88 899.74C844.44 898.80 843.50 898.80 842.94 899.74 M836.09 913.26C836.27 914.57 837.59 914.57 838.90 913.26L840.31 911.38"/>
<path stroke-width="1.55" d="M778.35 871.76C777.79 876.08 774.60 883.78 772.16 887.72 M796.19 871.39C794.12 872.51 789.43 881.15 784.36 888.85 M791.87 882.47L789.24 887.91 M797.13 882.65L795.25 887.91 M803.13 882.18L800.32 889.22 M807.45 882.65C808.20 883.40 807.27 885.47 805.58 889.22 M812.71 882.65C813.46 883.40 812.33 885.66 811.02 887.91 M818.25 882.28L815.90 888.10 M821.35 883.78C820.22 885.28 819.84 886.78 820.03 887.91 M833.18 873.83L825.29 888.10 M831.86 882.28L829.42 888.10 M840.31 877.02L834.68 888.10 M842.94 882.28L840.87 887.35 M853.27 882.28L847.63 892.23 M787.18 898.05C782.86 901.80 778.16 908.94 778.16 912.32C778.35 913.82 779.29 914.38 780.23 914.57 M790.18 911.76C789.99 912.51 789.99 913.07 790.37 913.44 M795.25 912.69C796.19 911.57 796.38 910.25 796.00 909.50C795.62 908.75 794.87 908.56 794.31 908.56 M801.26 908.00L798.44 914.20 M806.14 908.56C806.89 909.31 805.76 911.19 804.64 913.26 M815.90 902.93L810.27 913.26 M819.66 907.06L817.22 914.20 M825.48 911.76C825.29 912.51 825.29 913.07 825.67 913.44 M830.55 912.69C831.49 911.57 831.67 910.25 831.30 909.50C830.92 908.75 830.17 908.56 829.61 908.56 M842.94 899.74C840.12 904.24 836.84 910.82 836.09 913.26"/>
</g>
<circle class="k" cx="820.03" cy="879.09" r="0.8"/>
<circle class="k" cx="833.55" cy="879.09" r="0.8"/>
<text x="771" y="941" font-family="Liberation Serif, serif" font-style="italic" font-size="17" fill="#231f20">high</text>
<text x="833.5" y="941" font-family="Liberation Serif, serif" font-style="italic" font-size="17" fill="#231f20">low</text>
</g><!--/fig3-->
<!-- FIG4 -->
<g id="fig4">
<defs><clipPath id="c4"><rect x="691.9" y="1030" width="480" height="405.1"/></clipPath></defs>
<g clip-path="url(#c4)">
<path class="l" d="M691.9,1129.2 L755.5,1105.5"/>
<path class="l" d="M691.9,1137.3 L776.4,1105.5"/>
<path class="l" d="M691.9,1149.1 L801.7,1107.1"/>
<path class="l" d="M691.9,1137.3 L691.9,1149.1"/>
<path class="t" d="M760.9,1123.5 L760.9,1183.9"/>
<path class="m" d="M767.8,1120.2 L767.8,1181.4"/>
<path class="m" d="M778.1,1116.9 L778.1,1179.0"/>
<path class="t" d="M784.6,1114.5 L784.6,1179.5"/>
<path class="m" d="M787.4,1113.7 L787.4,1179.8"/>
<path class="l" d="M768.3,1122.6 L774.8,1120.6 V1133.7 L768.3,1135.7"/>
<path class="t" d="M769.8,1123.6 L773.3,1122.4 V1132.7 L769.8,1134.2"/>
<path class="l" d="M768.3,1141.8 L774.8,1139.8 V1152.5 L768.3,1154.5"/>
<path class="t" d="M769.8,1142.8 L773.3,1141.6 V1151.5 L769.8,1153.0"/>
<path class="l" d="M768.3,1168.7 L774.8,1166.7 V1179.0 L768.3,1181.0"/>
<path class="t" d="M769.8,1169.7 L773.3,1168.5 V1178.0 L769.8,1179.5"/>
<path class="l" d="M691.9,1210.8 L778.1,1178.2"/>
<path class="l" d="M691.9,1217.3 L783.0,1183.1"/>
<path class="l" d="M778.1,1178.2 L793.6,1183.4"/>
<path class="l" d="M783.0,1183.1 L789.5,1185.5"/>
<path class="l" d="M721.2,1295.5 C721.6,1291.7 722.4,1279.2 723.4,1272.7 C724.4,1266.2 725.4,1261.8 727.4,1256.3 C729.4,1250.8 732.7,1245.5 735.6,1240.0 C738.5,1234.5 742.1,1227.8 745.0,1223.5 C747.9,1219.2 750.1,1217.5 752.8,1214.5 C755.5,1211.5 757.8,1208.6 761.3,1205.5 C764.8,1202.4 769.5,1198.7 773.6,1195.7 C777.7,1192.7 782.4,1189.8 785.8,1187.6 C789.2,1185.4 789.9,1185.1 794.0,1182.7 C798.1,1180.3 804.9,1176.2 810.3,1173.3 C815.7,1170.4 820.8,1167.8 826.6,1165.1 C832.4,1162.4 837.7,1160.2 845.0,1157.3 C852.3,1154.4 861.4,1150.3 870.6,1147.6 C879.8,1144.9 893.6,1142.4 900.0,1141.1 C906.4,1139.8 903.4,1140.3 909.0,1139.8 C914.6,1139.3 927.8,1138.1 933.5,1138.0 C939.2,1137.9 940.6,1138.5 943.3,1139.2 C945.9,1139.9 948.0,1141.1 949.4,1142.2 C950.8,1143.3 951.4,1145.3 951.8,1145.9"/>
<path class="m" d="M760.1,1217.8 C760.3,1217.0 760.4,1214.7 761.3,1212.9 C762.2,1211.1 763.6,1209.0 765.4,1207.1 C767.2,1205.2 768.5,1204.0 771.9,1201.4 C775.3,1198.8 782.1,1194.1 785.8,1191.6 C789.5,1189.1 789.9,1188.8 794.0,1186.3 C798.1,1183.8 804.9,1179.5 810.3,1176.5 C815.7,1173.5 820.8,1171.1 826.6,1168.4 C832.4,1165.8 837.7,1163.6 845.0,1160.6 C852.3,1157.6 861.4,1153.2 870.6,1150.3 C879.8,1147.4 889.5,1144.8 900.0,1143.1 C910.5,1141.3 926.6,1140.2 933.5,1139.8 C940.4,1139.4 940.2,1140.5 941.5,1140.6"/>
<path class="t" d="M767.0,1207.5 C767.8,1206.7 768.8,1205.1 771.9,1202.7 C775.0,1200.3 779.4,1197.1 785.8,1192.9 C792.2,1188.8 803.5,1181.7 810.3,1177.8 C817.1,1173.9 820.8,1172.4 826.6,1169.8 C832.4,1167.2 837.7,1165.2 845.0,1162.2 C852.3,1159.2 861.4,1154.8 870.6,1151.9 C879.8,1149.0 889.5,1146.8 900.0,1145.0 C910.5,1143.2 926.7,1141.8 933.5,1141.3 C940.3,1140.8 939.6,1141.7 940.8,1141.8"/>
<path class="l" d="M790.7,1190.8 C794.0,1188.8 804.3,1182.3 810.3,1179.0 C816.3,1175.7 820.8,1173.7 826.6,1171.2 C832.4,1168.8 837.7,1167.2 845.0,1164.3 C852.3,1161.4 861.4,1156.7 870.6,1153.8 C879.8,1150.9 890.9,1148.7 900.0,1147.0 C909.1,1145.3 918.7,1144.5 925.0,1143.8 C931.3,1143.1 935.8,1143.0 938.0,1142.8"/>
<path class="l" d="M752.8,1214.5 L760.1,1217.8"/>
<path class="l" d="M760.1,1217.8 C767.1,1213.9 788.0,1201.3 802.1,1194.5 C816.2,1187.7 829.7,1182.0 845.0,1176.9 C860.3,1171.8 882.7,1166.9 894.0,1164.1 C905.3,1161.3 908.8,1160.6 912.7,1160.0 C916.6,1159.4 916.5,1160.0 917.6,1160.6 C918.7,1161.2 919.1,1163.2 919.4,1163.7"/>
<path class="m" d="M760.3,1217.8 V1289 C760.9,1296 757,1307 751.9,1311.8"/>
<path class="l" d="M761.7,1293.1 L901.6,1240.2"/>
<path class="l" d="M951.8,1145.9 V1215.7 C951,1226 945.7,1235.3 938.4,1241.4 L933.5,1244.5"/>
<path class="t" d="M950.0,1146.5 L950.0,1216.0"/>
<path class="m" d="M934.1,1245.1 V1152 L940.8,1141.6"/>
<path class="t" d="M935.3,1153.3 L943.3,1142.2"/>
<path class="l" d="M902.2,1232.9 C902.5,1230.0 903.0,1222.7 904.1,1215.7 C905.2,1208.8 906.8,1199.0 909.0,1191.2 C911.2,1183.5 914.3,1175.7 917.6,1169.2 C920.9,1162.7 925.1,1156.7 928.6,1152.0 C932.1,1147.3 936.8,1142.8 938.4,1141.0"/>
<path class="l" d="M916.3,1237.7 C917.5,1238.6 921.5,1242.1 923.7,1243.3 C926.0,1244.5 928.1,1244.8 929.8,1245.1 C931.5,1245.4 933.4,1244.9 934.1,1244.9"/>
<path class="m" d="M802.1,1194.5 C802.6,1193.5 804.0,1190.4 805.4,1188.4 C806.8,1186.4 808.1,1184.6 810.3,1182.7 C812.5,1180.8 815.1,1178.7 818.5,1176.9 C821.9,1175.1 828.7,1172.8 830.7,1172.0"/>
<path class="l" d="M830.7,1172 L873,1155.2 C877,1153.7 879.6,1154.6 878.5,1157.2 L873.2,1166.8 Q871.5,1169.5 866,1171.3 L802.1,1194.5"/>
<path class="k" d="M823.8,1185.5 L831.9,1171.6 L844.2,1166.7 L836.8,1179 Z"/>
<path class="k" d="M845.8,1176.5 L853.2,1164.3 L864.6,1160.2 L858.1,1171.6 Z"/>
<path d="M826,1184.6 L834,1171 M843,1176.8 L850.8,1165" stroke="#fff" stroke-width="0.7" fill="none"/>
<path class="t" d="M822.0,1185.0 L838.0,1179.5"/>
<path class="t" d="M844.5,1176.2 L859.0,1171.0"/>
<path class="m" d="M691.9,1293.1 L721.7,1282.4"/>
<path class="t" d="M691.9,1299.0 L720.9,1288.5"/>
<path class="t" d="M691.9,1301.5 L720.9,1291.0"/>
<path class="l" d="M691.9,1305.3 L720.9,1295.5"/>
<path class="l" d="M720.9,1295.5 C723.4,1296.5 731.1,1299.0 736.0,1301.5 C740.9,1304.0 745.2,1306.3 750.3,1310.2 C755.4,1314.1 761.8,1320.1 766.6,1324.9 C771.5,1329.7 777.3,1336.5 779.4,1338.8"/>
<path class="l" d="M779.4,1338.8 L779.4,1349.4"/>
<path class="l" d="M729.1,1356.7 C732.6,1356.2 744.0,1355.0 750.3,1353.5 C756.5,1352.0 761.8,1350.1 766.6,1347.8 C771.5,1345.5 777.3,1340.9 779.4,1339.5"/>
<path class="l" d="M737.2,1367.3 C739.9,1366.8 748.2,1365.9 753.6,1364.1 C759.0,1362.3 765.7,1359.0 769.9,1356.7 C774.1,1354.4 777.4,1351.3 778.9,1350.2"/>
<path class="l" d="M771.5,1355.5 C772.5,1356.2 776.2,1358.2 777.5,1360.0 C778.8,1361.8 778.9,1363.4 779.2,1366.0 C779.5,1368.6 779.4,1373.9 779.4,1375.5"/>
<path class="l" d="M747.0,1380.4 C748.9,1380.0 754.4,1379.2 758.5,1378.0 C762.6,1376.8 768.0,1374.8 771.5,1373.1 C775.0,1371.3 778.1,1368.4 779.4,1367.5"/>
<path class="l" d="M747.9,1391.0 C749.7,1390.6 754.8,1389.8 758.5,1388.6 C762.2,1387.4 766.5,1385.6 769.9,1383.7 C773.3,1381.8 777.4,1378.2 778.9,1377.1"/>
<path class="l" d="M691.9,1324.9 C694.8,1326.8 703.3,1331.0 709.5,1336.3 C715.7,1341.6 723.7,1350.2 729.1,1356.7 C734.5,1363.2 739.0,1370.5 742.1,1375.5 C745.2,1380.5 747.1,1383.9 747.9,1386.9 C748.7,1389.9 747.1,1392.4 747.0,1393.5"/>
<path class="t" d="M691.9,1328.2 C694.6,1330.1 702.1,1334.5 708.0,1339.5 C713.9,1344.5 723.8,1355.3 727.0,1358.5"/>
<path class="l" d="M691.9,1334.7 C694.0,1336.3 700.6,1341.0 704.6,1344.5 C708.6,1348.0 713.5,1352.6 716.0,1355.9 C718.5,1359.2 719.3,1361.6 719.3,1364.1 C719.3,1366.5 720.6,1367.6 716.0,1370.6 C711.4,1373.6 695.9,1380.1 691.9,1382.0"/>
<path class="l" d="M691.9,1422.0 L747.0,1393.5"/>
<path class="l" d="M691.9,1427.8 L745.4,1401.6"/>
<path class="l" d="M691.9,1435.1 L744.6,1406.5"/>
<path class="l" d="M746.3,1394.0 L745.4,1404.5"/>
<path class="l" d="M730.7,1416.3 L729.4,1435.1"/>
<path class="l" d="M757.7,1389.4 L753.6,1435.1"/>
<path class="m" d="M779.7,1342.9 L810.7,1352.7"/>
<path class="m" d="M776.4,1353.5 L789.5,1357.6"/>
<path class="l" d="M810.7,1352.7 C818.9,1350.1 843.6,1342.7 860.0,1336.9 C876.4,1331.2 895.4,1323.6 909.0,1318.2 C922.6,1312.8 930.5,1308.9 941.6,1304.3 C952.8,1299.7 970.2,1292.7 975.9,1290.4"/>
<path class="l" d="M787.9,1356.7 C790,1362 796,1366.5 802.6,1369.8 Q807,1371.2 812.3,1370.6"/>
<path class="l" d="M812.3,1370.6 C820.2,1368.7 843.9,1363.4 860.0,1359.0 C876.1,1354.6 895.4,1348.9 909.0,1344.3 C922.6,1339.7 930.7,1336.1 941.6,1331.2 C952.5,1326.3 966.1,1319.5 974.3,1314.9 C982.5,1310.3 987.9,1305.4 990.6,1303.5"/>
<path class="l" d="M789.5,1357.6 H798 Q804,1357 810.7,1352.9"/>
<path class="l" d="M789.5,1375.5 C791.1,1376.3 795.8,1379.5 799.3,1380.4 C802.8,1381.4 800.6,1383.0 810.7,1381.2 C820.8,1379.4 843.6,1374.0 860.0,1369.6 C876.4,1365.2 895.4,1359.7 909.0,1354.9 C922.6,1350.1 930.7,1346.0 941.6,1341.0 C952.5,1336.0 966.1,1329.6 974.3,1324.7 C982.5,1319.8 987.9,1313.8 990.6,1311.6"/>
<path class="l" d="M788.7,1357.6 L789.5,1375.5"/>
<path class="t" d="M790.5,1360.0 L796.8,1379.0"/>
<path class="l" d="M796.5,1381.2 L796.5,1435.1"/>
<path class="m" d="M990.6,1311.6 C990.7,1310.7 991.0,1307.6 991.0,1306.0 C991.0,1304.4 991.5,1303.8 990.6,1301.8 C989.7,1299.8 988.4,1296.2 985.7,1293.7 C983.0,1291.2 980.3,1289.3 974.3,1287.1 C968.3,1284.9 957.4,1283.0 949.8,1280.6 C942.2,1278.1 933.5,1274.9 928.6,1272.4 C923.7,1270.0 922.6,1268.3 920.4,1265.9 C918.2,1263.5 917.4,1260.8 915.5,1257.8 C913.6,1254.8 910.1,1249.6 909.0,1248.0"/>
<path class="t" d="M911.4,1256.9 L911.4,1316.5"/>
<path class="l" d="M975.9,1323.9 L971,1391.6 C970.5,1396 966,1399.5 959.6,1402.2"/>
<path class="l" d="M878.0,1434.1 L958.0,1403.1"/>
<path class="l" d="M958,1403.1 Q962,1404 960.4,1407.5 Q958.5,1410.5 954.7,1412"/>
<path class="t" d="M951.4,1406.0 L954.9,1411.8"/>
<path class="m" d="M895.1,1434.1 L954.7,1412.0"/>
<path class="l" d="M878.5,1434.3 L885.0,1431.8"/>
<path class="l" d="M972.7,1392.4 L1020.8,1408.0"/>
<path class="l" d="M956.3,1434.1 L1016.7,1411.2"/>
<path class="l" d="M975.9,1434.1 L1021.6,1416.1 Q1027,1413.5 1027.3,1407 V1332"/>
<path class="h" d="M989.8,1434.1 L1033.1,1418.6"/>
<path class="l" d="M1031.4,1358.2 L1033.1,1418.6"/>
<path class="l" d="M1033.1,1418.6 L1035.0,1421.0"/>
<path class="t" d="M1020.0,1305.9 L1021.5,1404.7"/>
<path class="l" d="M860.0,1256.1 L901.6,1240.2"/>
<path class="l" d="M893.1,1245.1 C894.3,1246.3 898.2,1250.4 900.4,1252.4 C902.6,1254.4 904.7,1256.7 906.5,1257.3 C908.3,1257.9 910.6,1256.3 911.4,1256.1"/>
<ellipse cx="907.8" cy="1237.6" rx="4.6" ry="6.2" fill="#231f20" transform="rotate(-35 907.8 1237.6)"/>
<ellipse cx="909.6" cy="1239" rx="5.8" ry="7.4" class="l" transform="rotate(-35 909.6 1239)"/>
<path d="M905.3,1234.8 L910.8,1239 M904.8,1237 L909.8,1241" stroke="#fff" stroke-width="0.6" fill="none"/>
<path class="l" d="M913.9,1228.0 L913.9,1236.5"/>
<path class="l" d="M916.3,1229.2 L916.3,1236.5"/>
<path class="t" d="M917.5,1236.5 C918.8,1237.0 922.8,1239.3 925.0,1239.8 C927.2,1240.2 929.5,1239.8 931.0,1239.2 C932.5,1238.7 933.5,1237.0 934.0,1236.5"/>
<path class="l" d="M1010.6,1213.8 L1066.4,1191.8"/>
<path class="l" d="M1046.5,1202.6 L1067.0,1194.2"/>
<path class="l" d="M1074.5,1122.7 H1081.8 M1076,1123.4 L1070.8,1154.3 L1073.7,1155 L1072.3,1167.5"/>
<path class="h" fill="#fff" d="M1068.4,1172.5 C1069.3,1170.7 1070.7,1169.3 1072.3,1168.4 C1073.9,1167.5 1076.2,1166.9 1078.2,1167.1 C1080.2,1167.3 1082.5,1168.2 1084.1,1169.6 C1085.7,1171.0 1086.5,1173.8 1088.0,1175.3 C1089.5,1176.8 1091.1,1177.1 1092.9,1178.4 C1094.7,1179.7 1097.3,1181.2 1098.8,1183.3 C1100.3,1185.4 1101.4,1188.5 1101.7,1191.1 C1102.0,1193.7 1101.5,1196.5 1100.7,1199.0 C1099.9,1201.5 1098.4,1204.1 1096.8,1205.8 C1095.2,1207.5 1093.0,1208.8 1090.9,1209.3 C1088.8,1209.8 1086.0,1209.4 1084.1,1208.8 C1082.1,1208.2 1082.0,1208.3 1079.2,1205.8 C1076.4,1203.2 1069.5,1196.8 1067.4,1193.5 C1065.3,1190.2 1066.5,1188.3 1066.4,1186.0 C1066.3,1183.7 1066.6,1181.7 1066.9,1179.4 C1067.2,1177.2 1067.5,1174.3 1068.4,1172.5 Z"/>
<path class="m" d="M1069.4,1176.0 C1070.2,1174.0 1071.3,1172.4 1073.3,1172.0 C1075.2,1171.6 1078.5,1172.3 1081.1,1173.5 C1083.7,1174.7 1086.9,1177.1 1089.0,1179.4 C1091.1,1181.7 1092.9,1184.4 1093.9,1187.2 C1094.9,1190.0 1095.4,1193.4 1094.9,1196.0 C1094.4,1198.6 1092.7,1201.4 1090.9,1202.9 C1089.1,1204.4 1086.0,1205.1 1084.1,1204.9 C1082.1,1204.7 1081.8,1203.9 1079.2,1201.9 C1076.7,1199.9 1070.6,1196.0 1068.8,1193.0 C1067.0,1190.0 1068.1,1186.8 1068.2,1184.0 C1068.3,1181.2 1068.6,1178.0 1069.4,1176.0 Z"/>
<path class="l" d="M1070.6,1178.5 C1071.2,1177.8 1072.3,1175.0 1074.0,1174.6 C1075.7,1174.1 1078.3,1174.7 1080.5,1175.8 C1082.7,1176.9 1085.4,1179.0 1087.2,1181.0 C1089.0,1183.0 1090.6,1185.6 1091.4,1188.0 C1092.2,1190.4 1092.7,1193.4 1092.3,1195.5 C1091.9,1197.6 1090.6,1199.5 1089.3,1200.6 C1088.0,1201.7 1085.8,1202.4 1084.3,1202.3 C1082.8,1202.2 1081.0,1200.4 1080.3,1200.0"/>
<path class="h" d="M1071.5,1181.5 L1083.1,1188.6 C1087.5,1191.5 1089,1195 1086.6,1198.6 C1084.5,1201 1081.5,1200 1079.5,1198.6 L1069.5,1191.6"/>
<path class="l" d="M1072.3,1184 L1082,1190 C1085.6,1192.4 1086.5,1195 1085,1197.2 C1083.6,1198.8 1081.8,1198.2 1080.4,1197.2 L1071,1190.3"/>
<path class="l" d="M1072,1186.8 L1080.5,1192 M1071.5,1188.8 L1079.6,1194.2"/>
<path class="l" d="M1084.1,1169.6 C1085.1,1169.9 1087.9,1170.3 1090.0,1171.5 C1092.1,1172.7 1094.7,1174.8 1096.5,1177.0 C1098.3,1179.2 1099.9,1182.0 1101.0,1184.5 C1102.1,1187.0 1102.8,1189.4 1103.0,1192.0 C1103.2,1194.6 1102.8,1197.6 1102.0,1200.0 C1101.2,1202.4 1100.1,1204.8 1098.5,1206.5 C1096.9,1208.2 1093.5,1209.8 1092.5,1210.5"/>
<path class="l" d="M1096.3,1182.3 V1164.9 Q1098.3,1162.3 1100.3,1164.9 L1100.7,1184.3"/>
<path class="l" d="M1143.8,1160.8 C1144.5,1161.9 1147.2,1164.8 1147.8,1167.6 C1148.4,1170.4 1148.1,1174.1 1147.3,1177.4 C1146.5,1180.7 1144.8,1184.8 1142.9,1187.2 C1141.0,1189.7 1138.5,1191.1 1136.0,1192.1 C1133.5,1193.1 1129.5,1192.9 1128.2,1193.1 L1100.7,1184.8"/>
<path class="t" d="M1142.6,1161.8 C1143.1,1162.9 1145.4,1166.0 1145.9,1168.6 C1146.4,1171.2 1146.2,1174.5 1145.4,1177.4 C1144.7,1180.3 1143.1,1184.0 1141.4,1186.2 C1139.7,1188.4 1137.2,1189.8 1135.0,1190.7 C1132.8,1191.6 1129.3,1191.4 1128.2,1191.6"/>
<path class="l" d="M1151.2,1200.0 C1149.0,1200.6 1141.8,1202.9 1138.0,1203.4 C1134.2,1203.9 1131.2,1203.4 1128.2,1202.9 C1125.2,1202.4 1121.6,1200.8 1120.3,1200.4"/>
<path class="l" d="M1041.4,1202.8 C1042.8,1202.8 1046.0,1202.7 1049.8,1202.9 C1053.6,1203.1 1059.9,1203.8 1064.5,1203.9 C1069.1,1204.0 1074.1,1203.1 1077.2,1203.4 C1080.3,1203.7 1082.1,1205.4 1083.1,1205.8"/>
<path class="l" d="M1047.8,1204.9 C1049.8,1205.4 1055.2,1207.3 1059.6,1207.8 C1064.0,1208.3 1070.5,1207.5 1074.3,1207.8 C1078.0,1208.1 1080.8,1209.5 1082.1,1209.8"/>
<path class="l" d="M1041.4,1202.8 C1042.5,1203.2 1044.8,1203.0 1047.8,1205.3 C1050.8,1207.6 1056.0,1212.9 1059.6,1216.6 C1063.2,1220.3 1066.5,1224.7 1069.4,1227.4 C1072.3,1230.1 1074.9,1231.8 1077.2,1232.8 C1079.5,1233.8 1081.3,1233.6 1083.1,1233.3 C1084.9,1233.0 1086.5,1231.1 1088.0,1230.8 C1089.5,1230.5 1091.2,1231.2 1091.9,1231.3"/>
<path class="l" d="M1079.2,1208.8 C1080.0,1210.1 1082.5,1214.0 1084.1,1216.6 C1085.7,1219.2 1087.2,1222.5 1089.0,1224.5 C1090.8,1226.5 1093.0,1226.5 1094.9,1228.4 C1096.9,1230.4 1098.4,1232.8 1100.7,1236.2 C1103.0,1239.6 1106.6,1245.4 1108.6,1248.9 C1110.6,1252.4 1112.0,1255.8 1112.7,1257.2"/>
<path class="l" d="M1091.9,1231.3 C1092.7,1232.1 1095.0,1233.8 1096.8,1236.2 C1098.6,1238.7 1100.9,1243.0 1102.7,1246.0 C1104.5,1249.0 1106.1,1252.2 1107.5,1254.5 C1108.9,1256.8 1110.6,1259.2 1111.2,1260.1"/>
<path class="l" d="M1088.6,1233.3 L1088.8,1267.2"/>
<path d="M1116.4,1196 L1128.7,1189.2" stroke="#231f20" stroke-width="3.4" fill="none"/>
<path class="k" d="M1102.2,1203.9 L1111,1188.7 L1121.3,1204.4 Z"/>
</g>
<circle cx="1080.5" cy="1195.5" r="73.2" fill="none" stroke="#231f20" stroke-width="1.7" stroke-dasharray="8.6 5.1" stroke-dashoffset="3"/>
<circle cx="906.7" cy="1238.5" r="27" fill="none" stroke="#231f20" stroke-width="1.6" stroke-dasharray="6.4 4.2"/>
<path d="M934.7,1234.1 L1010.6,1219.9" fill="none" stroke="#231f20" stroke-width="1.6" stroke-dasharray="7.6 5"/>
<path d="M939.4,1081.6 L930.7,1123.6" fill="none" stroke="#231f20" stroke-width="2.00"/>
<path class="k" d="M929.1,1131.4 L926.2,1121.6 L935.6,1123.6 Z"/>
<path d="M1007.4,1121.3 L1060.6,1183.5" fill="none" stroke="#231f20" stroke-width="2.00"/>
<path class="k" d="M1066.4,1190.3 L1056.3,1185.8 L1063.5,1179.6 Z"/>
<path d="M1084.5,1097.3 L1080.9,1153.7" fill="none" stroke="#231f20" stroke-width="2.00"/>
<path class="k" d="M1080.4,1161.7 L1076.1,1152.4 L1085.9,1153.0 Z"/>
<path class="m" d="M1026.0,1147.4 L1029.8,1144.2"/>
<ellipse cx="943.8" cy="1063" rx="22.3" ry="18" fill="#fff" stroke="#231f20" stroke-width="2.0"/>
<ellipse cx="993.9" cy="1106" rx="22.3" ry="18" fill="#fff" stroke="#231f20" stroke-width="2.0"/>
<ellipse cx="1084.6" cy="1080.1" rx="17.5" ry="16.6" fill="#fff" stroke="#231f20" stroke-width="2.0"/>
</g><!--/fig4-->
</svg>
</body></html>
